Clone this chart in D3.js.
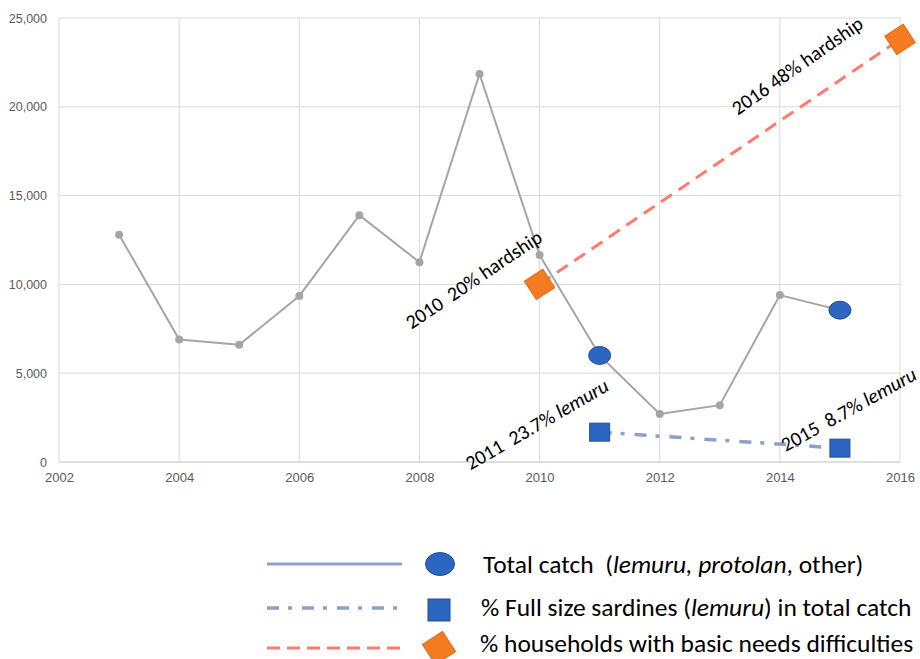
<!DOCTYPE html>
<html>
<head>
<meta charset="utf-8">
<script src="https://cdn.jsdelivr.net/npm/d3@7"></script>
<style>
  body { margin: 0; background: #fff; }
  svg { display: block; font-family: Carlito, Calibri, "Open Sans", sans-serif; }
</style>
</head>
<body>
<svg id="chart" width="920" height="659"></svg>
<script>
// ----------------- DATA -----------------
var years = [2003, 2004, 2005, 2006, 2007, 2008, 2009, 2010, 2011, 2012, 2013, 2014, 2015];
var totalCatch = [12800, 6900, 6600, 9350, 13900, 11250, 21850, 11650, 6000, 2700, 3200, 9400, 8550];
var highlightYears = [2011, 2015];

var sardineYears = [2011, 2015];
var sardineValues = [1680, 780];

var hardshipYears = [2010, 2016];
var hardshipValues = [10000, 23800];

var xTicks = [2002, 2004, 2006, 2008, 2010, 2012, 2014, 2016];
var yTicks = [0, 5000, 10000, 15000, 20000, 25000];

// annotation anchors (data coords of text start) and labels
var noteYears = [2007.87, 2013.3, 2008.85, 2014.1];
var noteValues = [7450, 19500, -480, 560];
var noteLead = ['2010  20% hardship', '2016 48% hardship', '2011  23.7% ', '2015  8.7% '];
var noteItalic = ['', '', 'lemuru', 'lemuru'];
var noteAngles = [-34, -35, -30, -29];

var legendLabels = [
    [['Total catch  (', false], ['lemuru, protolan', true], [', other)', false]],
    [['% Full size sardines (', false], ['lemuru', true], [') in total catch', false]],
    [['% households with basic needs difficulties', false]]
];

// ----------------- CHART -----------------
var svg = d3.select('#chart');
var margin = {top: 18, left: 59, right: 20, bottom: 197};
var width = 920, height = 659;

var x = d3.scaleLinear().domain([2002, 2016]).range([margin.left, width - margin.right]);
var y = d3.scaleLinear().domain([0, 25000]).range([height - margin.bottom, margin.top]);

// gridlines
svg.append('g').selectAll('line').data(yTicks.slice(1)).join('line')
    .attr('x1', x(2002)).attr('x2', x(2016))
    .attr('y1', d => y(d)).attr('y2', d => y(d))
    .attr('stroke', '#d9d9d9').attr('stroke-width', 1);
svg.append('g').selectAll('line').data(xTicks).join('line')
    .attr('x1', d => x(d)).attr('x2', d => x(d))
    .attr('y1', y(0)).attr('y2', y(25000))
    .attr('stroke', '#d9d9d9').attr('stroke-width', 1);
svg.append('line')
    .attr('x1', x(2002)).attr('x2', x(2016))
    .attr('y1', y(0)).attr('y2', y(0))
    .attr('stroke', '#bfbfbf').attr('stroke-width', 1);

// axes labels
var yAxis = d3.axisLeft(y).tickValues(yTicks).tickFormat(d3.format(',')).tickSize(0).tickPadding(12);
var gy = svg.append('g').attr('transform', 'translate(' + margin.left + ',0)').call(yAxis);
gy.select('.domain').remove();
gy.selectAll('text').style('font-size', '12.5px').attr('fill', '#595959');

var xAxis = d3.axisBottom(x).tickValues(xTicks).tickFormat(d3.format('d')).tickSize(0).tickPadding(11);
var gx = svg.append('g').attr('transform', 'translate(0,' + y(0) + ')').call(xAxis);
gx.select('.domain').remove();
gx.selectAll('text').style('font-size', '13px').attr('fill', '#595959');

// total catch line
var catchData = years.map((yr, i) => ({year: yr, value: totalCatch[i]}));
var line = d3.line().x(d => x(d.year)).y(d => y(d.value));
svg.append('path').datum(catchData)
    .attr('d', line).attr('fill', 'none')
    .attr('stroke', '#a5a5a5').attr('stroke-width', 2);
svg.append('g').selectAll('circle').data(catchData.filter(d => highlightYears.indexOf(d.year) < 0)).join('circle')
    .attr('cx', d => x(d.year)).attr('cy', d => y(d.value)).attr('r', 4)
    .attr('fill', '#a5a5a5');

// sardine dash-dot line
var sardineData = sardineYears.map((yr, i) => ({year: yr, value: sardineValues[i]}));
svg.append('path').datum(sardineData)
    .attr('d', line).attr('fill', 'none')
    .attr('stroke', '#8da0cd').attr('stroke-width', 3.5)
    .attr('stroke-dasharray', '12,9,4,10');

// hardship dashed line
var hardshipData = hardshipYears.map((yr, i) => ({year: yr, value: hardshipValues[i]}));
svg.append('path').datum(hardshipData)
    .attr('d', line).attr('fill', 'none')
    .attr('stroke', '#ff7b6e').attr('stroke-width', 3)
    .attr('stroke-dasharray', '13,8');

// markers
svg.append('g').selectAll('ellipse').data(catchData.filter(d => highlightYears.indexOf(d.year) >= 0)).join('ellipse')
    .attr('cx', d => x(d.year)).attr('cy', d => y(d.value))
    .attr('rx', 11).attr('ry', 9)
    .attr('fill', '#2c66c1').attr('stroke', '#1f4f96').attr('stroke-width', 1);

svg.append('g').selectAll('rect').data(sardineData).join('rect')
    .attr('x', d => x(d.year) - 10).attr('y', d => y(d.value) - 9)
    .attr('width', 20).attr('height', 18)
    .attr('fill', '#2c66c1').attr('stroke', '#1f4f96').attr('stroke-width', 1);

svg.append('g').selectAll('rect').data(hardshipData).join('rect')
    .attr('x', -11).attr('y', -11).attr('width', 22).attr('height', 22)
    .attr('transform', d => 'translate(' + x(d.year) + ',' + y(d.value) + ') rotate(-33)')
    .attr('fill', '#f47b20').attr('stroke', '#e06a12').attr('stroke-width', 1);

// annotations
noteLead.forEach(function(txt, i) {
    var t = svg.append('text')
        .attr('transform', 'translate(' + x(noteYears[i]) + ',' + y(noteValues[i]) + ') rotate(' + noteAngles[i] + ')')
        .style('font-size', '20px').attr('fill', '#000').style('white-space', 'pre');
    t.append('tspan').text(txt);
    if (noteItalic[i]) t.append('tspan').style('font-style', 'italic').text(noteItalic[i]);
});

// ----------------- LEGEND -----------------
var legendY = [564, 608, 648];
var legendTextY = [573, 616, 652];
var lg = svg.append('g');

lg.append('line').attr('x1', 267).attr('x2', 402).attr('y1', legendY[0]).attr('y2', legendY[0])
    .attr('stroke', '#8da0cd').attr('stroke-width', 3);
lg.append('line').attr('x1', 267).attr('x2', 402).attr('y1', legendY[1]).attr('y2', legendY[1])
    .attr('stroke', '#8da0cd').attr('stroke-width', 3.5).attr('stroke-dasharray', '12,9,4,10');
lg.append('line').attr('x1', 267).attr('x2', 402).attr('y1', legendY[2]).attr('y2', legendY[2])
    .attr('stroke', '#ff7b6e').attr('stroke-width', 3).attr('stroke-dasharray', '13,7');

lg.append('ellipse').attr('cx', 440).attr('cy', legendY[0]).attr('rx', 14.5).attr('ry', 11.5)
    .attr('fill', '#2c66c1').attr('stroke', '#1f4f96');
lg.append('rect').attr('x', 428).attr('y', legendY[1] - 9).attr('width', 22).attr('height', 22)
    .attr('fill', '#2c66c1').attr('stroke', '#1f4f96');
lg.append('rect').attr('x', -12).attr('y', -12).attr('width', 24).attr('height', 24)
    .attr('transform', 'translate(439,' + (legendY[2]) + ') rotate(-33)')
    .attr('fill', '#f47b20').attr('stroke', '#e06a12');

var legendX = [483, 481, 480];
legendLabels.forEach(function(parts, i) {
    var t = lg.append('text').attr('x', legendX[i]).attr('y', legendTextY[i])
        .style('font-size', '25.5px').attr('fill', '#000').style('white-space', 'pre');
    parts.forEach(function(p) {
        t.append('tspan').style('font-style', p[1] ? 'italic' : 'normal').text(p[0]);
    });
});
</script>
</body>
</html>
